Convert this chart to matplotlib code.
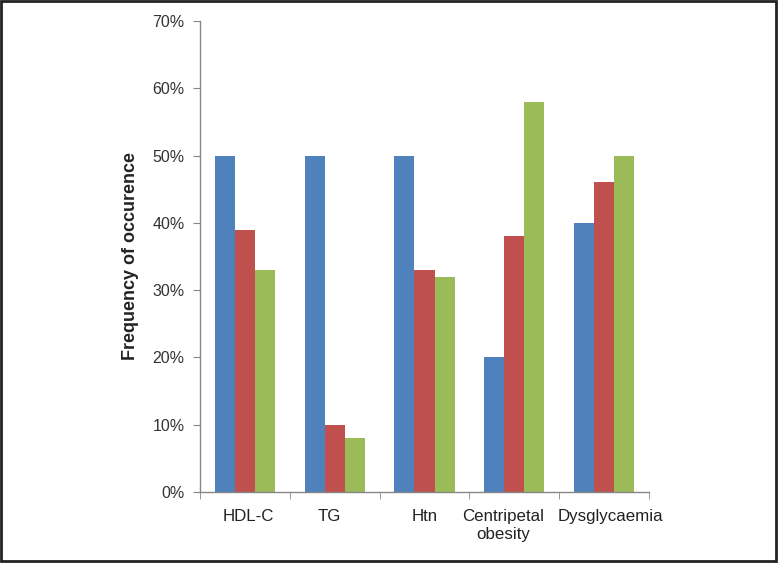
import matplotlib
matplotlib.use("Agg")
import matplotlib.pyplot as plt
import matplotlib.transforms as mtransforms
import numpy as np
from matplotlib.patches import Rectangle

categories = ["HDL-C", "TG", "Htn", "Centripetal\nobesity", "Dysglycaemia"]
series1 = [50, 50, 50, 20, 40]
series2 = [39, 10, 33, 38, 46]
series3 = [33, 8, 32, 58, 50]
yticks = [0, 10, 20, 30, 40, 50, 60, 70]
ytick_labels = ["0%", "10%", "20%", "30%", "40%", "50%", "60%", "70%"]
colors = ["#4F81BD", "#C0504D", "#9BBB59"]
label_shift_px = [3, -5, 0, -11, 6]

plt.rcParams['font.family'] = ['Liberation Sans', 'DejaVu Sans']

fig = plt.figure(figsize=(7.78, 5.63), dpi=100)
ax = fig.add_axes([200/778, 71/563, 449/778, 471/563])

x = np.arange(len(categories))
w = 0.223
for i, (vals, c) in enumerate(zip([series1, series2, series3], colors)):
    ax.bar(x + (i - 1) * w, vals, width=w, color=c, edgecolor='none')

ax.set_xlim(-0.5, len(categories) - 0.5)
ax.set_ylim(0, 70)
ax.set_yticks(yticks)
ax.set_yticklabels(ytick_labels, fontsize=11.5, color='#333333')
ax.set_xticks(x)
ax.set_xticklabels(categories, fontsize=12.2, color='#222222', linespacing=1.25,
                   multialignment='center')
ax.tick_params(axis='x', length=0, pad=12)
ax.set_xticks(np.arange(len(categories) + 1) - 0.5, minor=True)
ax.tick_params(axis='x', which='minor', length=5, color='#868686', direction='out')
ax.tick_params(axis='y', length=5, color='#868686', direction='out', pad=6)

for lbl, dx in zip(ax.get_xticklabels(), label_shift_px):
    lbl.set_transform(lbl.get_transform() + mtransforms.ScaledTranslation(dx / 100, 0, fig.dpi_scale_trans))

for s in ['top', 'right']:
    ax.spines[s].set_visible(False)
for s in ['left', 'bottom']:
    ax.spines[s].set_color('#868686')
    ax.spines[s].set_linewidth(1.0)

ax.set_ylabel("Frequency of occurence", fontsize=13, fontweight='bold', color='#222222', labelpad=10)

fig.patches.append(Rectangle((0.001, 0.003), 0.997, 0.995, transform=fig.transFigure,
                             fill=False, edgecolor='#222222', linewidth=2))

fig.savefig("out.png", dpi=100)
